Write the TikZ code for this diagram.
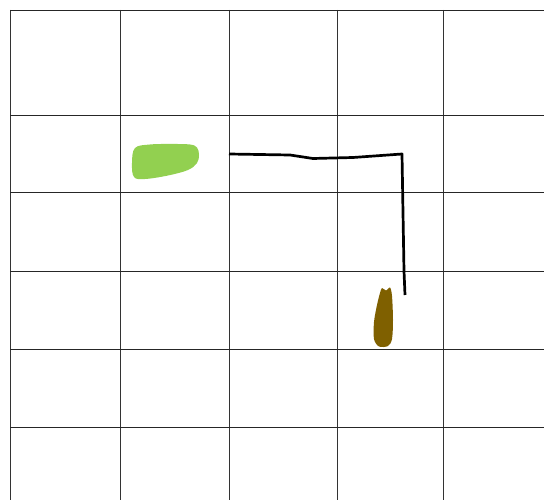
\documentclass[tikz,border=0pt]{standalone}
\usetikzlibrary{positioning}
\definecolor{leaf}{HTML}{92D050}
\definecolor{soil}{HTML}{7F6000}
\begin{document}
\begin{tikzpicture}[x=1pt,y=-1pt]
  \useasboundingbox[fill=white] (0,0) rectangle (544,500);
  % grid
  \foreach \gx in {10,120,229,337,443}
    \draw[line width=0.9pt,black!80] (\gx,10) -- (\gx,500);
  \foreach \gy in {10,115,192,271,349,427}
    \draw[line width=0.9pt,black!85] (10,\gy) -- (544,\gy);
  % green blob
  \fill[leaf] plot[smooth cycle,tension=0.6] coordinates
    {(135,148) (150,144.5) (172,144) (190,144.5) (197,147.5) (199,155)
     (197,163) (188,170) (168,175.5) (145,179) (134,177) (132,163)};
  % brown blob
  \fill[soil] plot[smooth cycle,tension=0.5] coordinates
    {(382,288) (386,290.5) (390,287.5) (392,296) (393,320) (392,339)
     (388,346) (379,346.5) (374,339) (374,322) (377,305) (380,293)};
  % path
  \draw[line width=2.7pt,line join=round] (229,154) -- (290,155) -- (313,158.5)
    -- (353,157.5) -- (402,154) -- (404,271) -- (405,295);
\end{tikzpicture}
\end{document}
